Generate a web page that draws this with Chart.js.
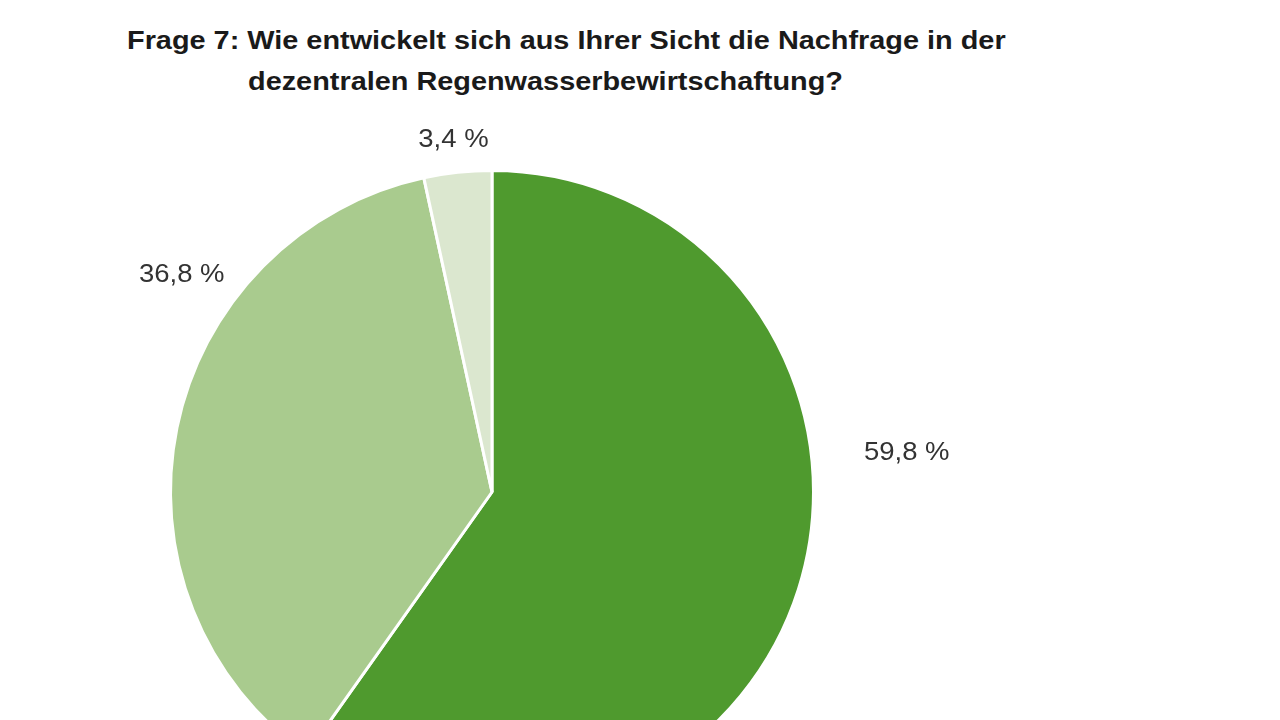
<!DOCTYPE html>
<html>
<head>
<meta charset="utf-8">
<script src="https://cdn.jsdelivr.net/npm/chart.js@4"></script>
<style>
  html, body { margin: 0; padding: 0; background: #fff; overflow: hidden; width: 1280px; height: 720px; }
  .title { position: absolute; font-family: "Liberation Sans", Arial, sans-serif; font-weight: bold; font-size: 26px; color: #1a1a1a; white-space: nowrap; transform: scaleX(1.11); transform-origin: left top; }
  #t1 { left: 127px; top: 25px; }
  #t2 { left: 248px; top: 66px; }
  #wrap { position: absolute; left: 0; top: 0; width: 1280px; height: 1100px; }
</style>
</head>
<body>
<div class="title" id="t1">Frage 7: Wie entwickelt sich aus Ihrer Sicht die Nachfrage in der</div>
<div class="title" id="t2">dezentralen Regenwasserbewirtschaftung?</div>
<div id="wrap"><canvas id="pieChart"></canvas></div>
<script>
const categories = ['steigt', 'bleibt gleich', 'sinkt'];
const shares = [59.8, 36.8, 3.4];
const labelTexts = ['59,8 %', '36,8 %', '3,4 %'];
const sliceColors = ['#4f9a2e', '#a9cb8e', '#dbe7cf'];

// label offsets from the pie centre, in units of the radius
const labelOffsets = [[1.29, -0.12], [-0.965, -0.675], [-0.12, -1.095]];

const outsideLabels = {
  id: 'outsideLabels',
  afterDraw(chart) {
    const ctx = chart.ctx;
    const arcs = chart.getDatasetMeta(0).data;
    ctx.save();
    ctx.font = '25px "Liberation Sans", Arial, sans-serif';
    ctx.fillStyle = '#333';
    ctx.textAlign = 'center';
    ctx.textBaseline = 'middle';
    arcs.forEach((arc, i) => {
      const r = arc.outerRadius;
      const x = arc.x + labelOffsets[i][0] * r;
      const y = arc.y + labelOffsets[i][1] * r;
      // slightly wider glyphs, like the original
      ctx.save();
      ctx.translate(x, y);
      ctx.scale(1.1, 1);
      ctx.fillText(labelTexts[i], 0, 0);
      ctx.restore();
    });
    ctx.restore();
  }
};

const ctx = document.getElementById('pieChart').getContext('2d');
new Chart(ctx, {
  type: 'pie',
  data: {
    labels: categories,
    datasets: [{
      data: shares,
      backgroundColor: sliceColors,
      borderColor: '#fff',
      borderWidth: 3,
      hoverOffset: 0
    }]
  },
  options: {
    responsive: true,
    maintainAspectRatio: false,
    animation: false,
    layout: { padding: { left: 169, top: 169, right: 465, bottom: 285 } },
    plugins: {
      legend: { display: false },
      tooltip: { enabled: false }
    }
  },
  plugins: [outsideLabels]
});
</script>
</body>
</html>
